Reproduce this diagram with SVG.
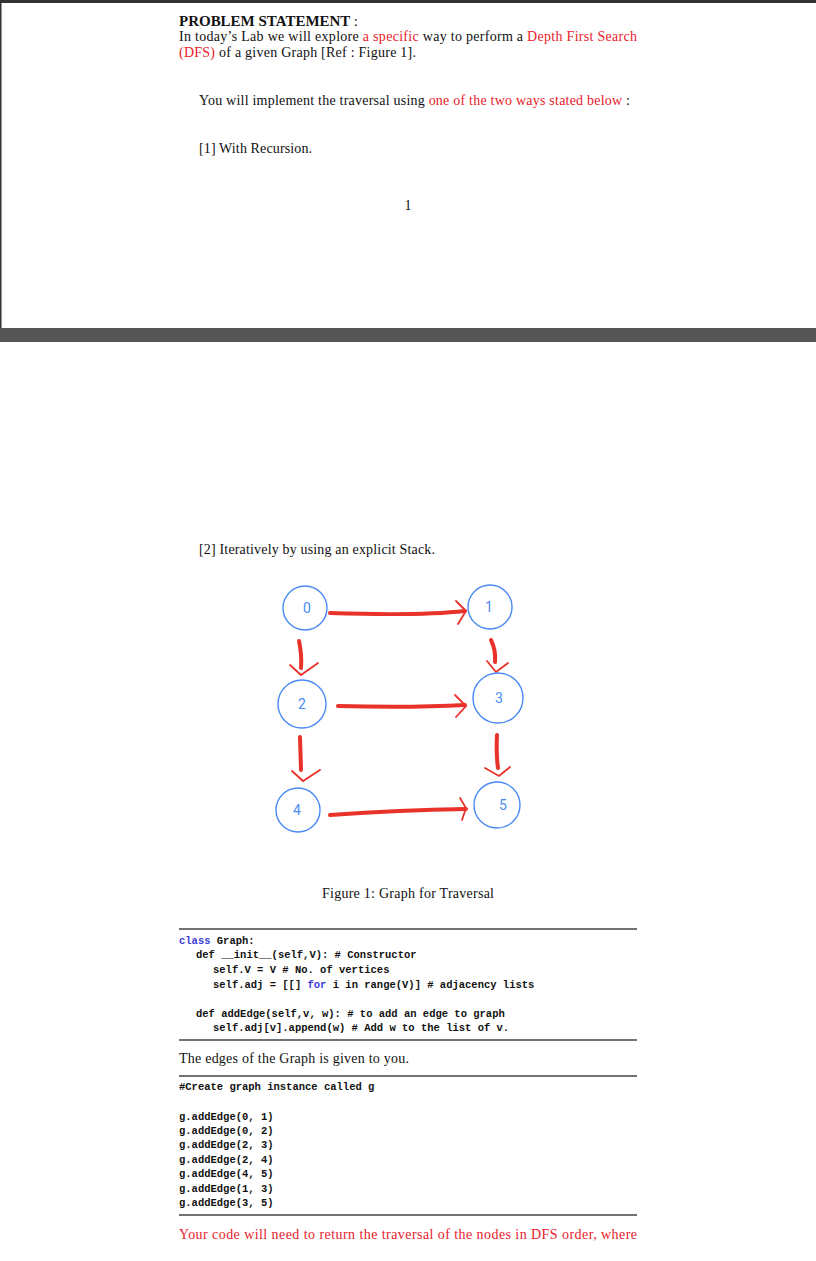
<svg xmlns="http://www.w3.org/2000/svg" width="816" height="1261" viewBox="0 0 816 1261">
<style>
.t{font-family:"Liberation Serif",serif;font-size:14px;fill:#111}
.r{fill:#e8202a}
.m{font-family:"Liberation Mono",monospace;font-size:10.5px;fill:#111;font-weight:bold}
.k{fill:#3a3ad8}
.n{fill:#fff;stroke:#4a8af4;stroke-width:1.4}
.nl{font-family:Roboto,sans-serif;font-size:14px;fill:#4a8af4;text-anchor:middle}
.e{fill:none;stroke:#e8322a;stroke-width:4;stroke-linecap:round;stroke-linejoin:round}
.a{fill:none;stroke:#e8322a;stroke-width:1.8;stroke-linecap:round}
.rule{stroke:#444;stroke-width:1.3}
</style>
<rect width="816" height="1261" fill="#fff"/>
<rect x="0" y="0" width="816" height="3" fill="#333"/>
<rect x="0" y="0" width="1.5" height="328" fill="#333"/>
<rect x="0" y="328" width="816" height="14" fill="#555"/>
<text class="t" x="179" y="26" font-weight="bold" textLength="179" lengthAdjust="spacingAndGlyphs">PROBLEM STATEMENT <tspan font-weight="normal">:</tspan></text>
<text class="t" x="179" y="41" textLength="458" lengthAdjust="spacing">In today’s Lab we will explore <tspan class="r">a specific</tspan> way to perform a <tspan class="r">Depth First Search</tspan></text>
<text class="t" x="179" y="57" textLength="237" lengthAdjust="spacing"><tspan class="r">(DFS)</tspan> of a given Graph [Ref : Figure 1].</text>
<text class="t" x="199" y="105" textLength="431" lengthAdjust="spacing">You will implement the traversal using <tspan class="r">one of the two ways stated below</tspan> :</text>
<text class="t" x="199" y="153" textLength="113" lengthAdjust="spacing">[1] With Recursion.</text>
<text class="t" x="408" y="210" text-anchor="middle" font-size="11">1</text>
<text class="t" x="199" y="554" textLength="236" lengthAdjust="spacing">[2] Iteratively by using an explicit Stack.</text>
<g id="edges">
<path class="e" d="M330,613 Q420,616 465,611"/><path class="a" d="M456,601 L466,611 L458,624"/>
<path class="e" d="M299,641 Q302,655 301,668"/><path class="a" d="M290,665 L301,675 L318,663"/>
<path class="e" d="M491,640 Q496,650 495,662"/><path class="a" d="M487,661 L496,672 L508,663"/>
<path class="e" d="M338,706 Q410,708 465,705"/><path class="a" d="M455,695 L466,706 L456,717"/>
<path class="e" d="M300,737 L301,770"/><path class="a" d="M292,771 L303,781 L320,770"/>
<path class="e" d="M497,735 Q496,755 498,768"/><path class="a" d="M485,768 L499,776 L510,767"/>
<path class="e" d="M330,815 Q400,810 466,809"/><path class="a" d="M460,798 L466,808 L462,820"/>
</g>
<g id="n0"><circle class="n" cx="305" cy="608" r="22"/><text class="nl" x="307" y="613" font-family="DejaVu Sans Mono">0</text></g>
<g id="n1"><circle class="n" cx="490" cy="607" r="22"/><text class="nl" x="489" y="612">1</text></g>
<g id="n2"><circle class="n" cx="302" cy="704" r="24"/><text class="nl" x="302" y="709">2</text></g>
<g id="n3"><circle class="n" cx="498" cy="698" r="25"/><text class="nl" x="499" y="703">3</text></g>
<g id="n4"><circle class="n" cx="298" cy="810" r="22"/><text class="nl" x="297" y="815">4</text></g>
<g id="n5"><circle class="n" cx="497" cy="805" r="23"/><text class="nl" x="503" y="810">5</text></g>
<text class="t" x="322" y="898" textLength="172" lengthAdjust="spacing">Figure 1: Graph for Traversal</text>
<line class="rule" x1="179" y1="929" x2="637" y2="929"/>
<text class="m" x="179" y="944"><tspan class="k">class</tspan> Graph:</text>
<text class="m" x="196" y="958">def __init__(self,V): # Constructor</text>
<text class="m" x="213" y="973">self.V = V  # No. of vertices</text>
<text class="m" x="213" y="988">self.adj = [[] <tspan class="k">for</tspan> i in range(V)] # adjacency lists</text>
<text class="m" x="196" y="1017">def addEdge(self,v, w): # to add an edge to graph</text>
<text class="m" x="213" y="1031">self.adj[v].append(w) # Add w to the list of v.</text>
<line class="rule" x1="179" y1="1040" x2="637" y2="1040"/>
<text class="t" x="179" y="1063" textLength="230" lengthAdjust="spacing">The edges of the Graph is given to you.</text>
<line class="rule" x1="179" y1="1076" x2="637" y2="1076"/>
<text class="m" x="179" y="1090">#Create graph instance called g</text>
<text class="m" x="179" y="1120">g.addEdge(0, 1)</text>
<text class="m" x="179" y="1134">g.addEdge(0, 2)</text>
<text class="m" x="179" y="1148">g.addEdge(2, 3)</text>
<text class="m" x="179" y="1163">g.addEdge(2, 4)</text>
<text class="m" x="179" y="1177">g.addEdge(4, 5)</text>
<text class="m" x="179" y="1192">g.addEdge(1, 3)</text>
<text class="m" x="179" y="1206">g.addEdge(3, 5)</text>
<line class="rule" x1="179" y1="1215" x2="637" y2="1215"/>
<text class="t r" x="179" y="1239" textLength="458" lengthAdjust="spacing">Your code will need to return the traversal of the nodes in DFS order, where</text>
</svg>
